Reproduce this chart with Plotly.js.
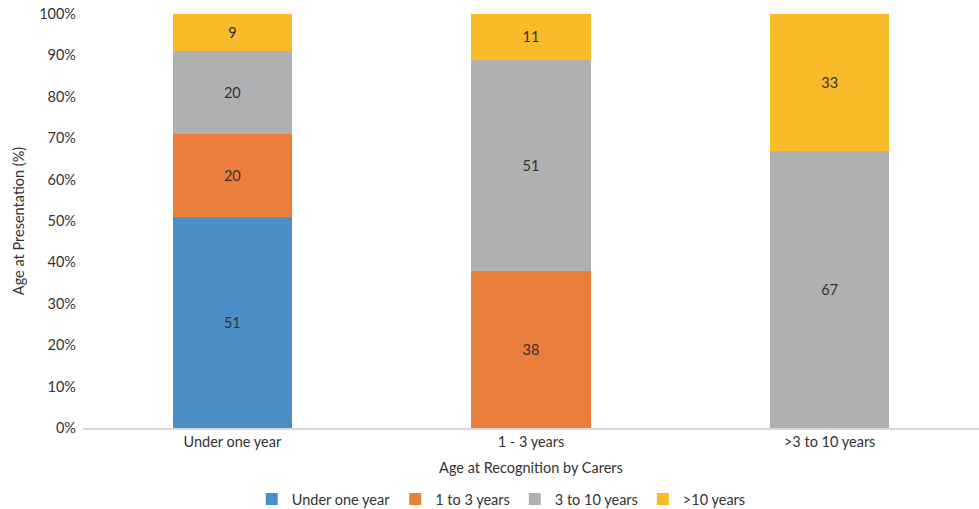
<!DOCTYPE html>
<html><head><meta charset="utf-8">
<script src="https://cdn.plot.ly/plotly-3.0.1.min.js"></script>
<style>html,body{margin:0;padding:0;background:#fff}</style>
</head><body>
<div id="chart" style="width:979px;height:509px"></div>
<script>
const categories = ["Under one year", "1 - 3 years", ">3 to 10 years"];
const seriesNames = ["Under one year", "1 to 3 years", "3 to 10 years", ">10 years"];
const underOne = [51, null, null];
const oneToThree = [20, 38, null];
const threeToTen = [20, 51, 67];
const overTen = [9, 11, 33];
const yTickVals = [0,10,20,30,40,50,60,70,80,90,100];
const yTickText = ["0%","10%","20%","30%","40%","50%","60%","70%","80%","90%","100%"];
const colors = ["#4A8FC7", "#EB7E3A", "#AFB0B2", "#F8BC2A"];

const allSeries = [underOne, oneToThree, threeToTen, overTen];
const font = "Lato, 'Open Sans', sans-serif";
const fs = 14.5;
const traces = allSeries.map((vals, i) => ({
  type: 'bar',
  name: seriesNames[i],
  x: categories,
  y: vals,
  text: vals.map(v => v == null ? '' : String(v)),
  textposition: 'inside',
  insidetextanchor: 'middle',
  textfont: {family: font, size: fs, color: '#333'},
  marker: {color: colors[i], line: {width: 0}},
  hoverinfo: 'skip'
}));

Plotly.newPlot('chart', traces, {
  barmode: 'stack',
  bargap: 0.6,
  width: 979, height: 509,
  margin: {l: 83, r: 0, t: 14, b: 81},
  paper_bgcolor: '#fff', plot_bgcolor: '#fff',
  font: {family: font, size: fs, color: '#333'},
  xaxis: {
    showgrid: false, zeroline: false,
    showline: true, linecolor: '#D9D9D9', linewidth: 1.5,
    ticks: '', tickfont: {size: fs, color: '#333'},
    title: {text: 'Age at Recognition by Carers', font: {size: fs, color: '#333'}, standoff: 14}
  },
  yaxis: {
    range: [0, 100], showgrid: false, zeroline: false, showline: false,
    tickvals: yTickVals, ticktext: yTickText, ticks: '',
    ticklabelstandoff: 6,
    tickfont: {size: fs, color: '#333'},
    title: {text: 'Age at Presentation (%)', font: {size: fs, color: '#333'}, standoff: 11}
  },
  showlegend: true,
  legend: {
    orientation: 'h', xref: 'container', yref: 'container',
    x: 0.512, xanchor: 'center', y: 0.0196, yanchor: 'middle',
    font: {size: fs, color: '#333'}, traceorder: 'normal',
    itemwidth: 30
  }
}, {displayModeBar: false, staticPlot: true});
</script>
</body></html>
